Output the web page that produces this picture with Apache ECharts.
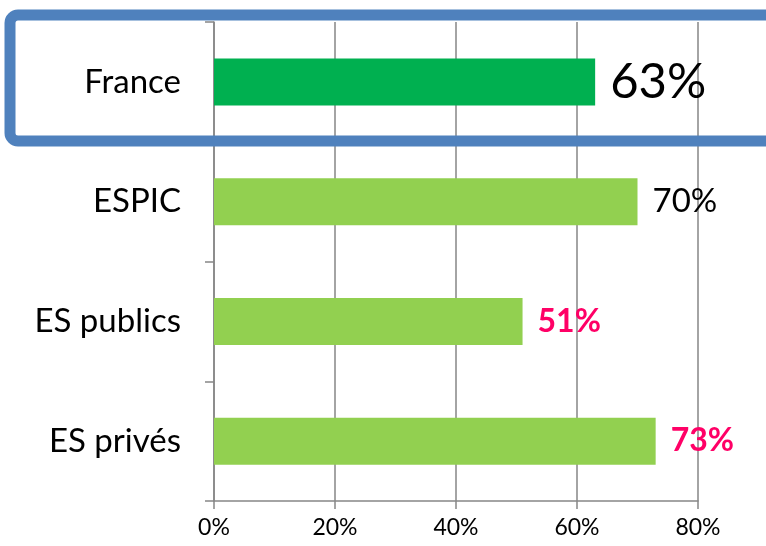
<!DOCTYPE html>
<html>
<head>
<meta charset="utf-8">
<script src="https://cdn.jsdelivr.net/npm/echarts@6/dist/echarts.min.js"></script>
<style>
    html, body {
        margin: 0;
        padding: 0;
        background: #fff;
    }

    #chart {
        width: 766px;
        height: 546px;
    }
</style>
</head>
<body>
<div id="chart"></div>
<script>
// données
var categories = ['France', 'ESPIC', 'ES publics', 'ES privés'];
var values = [63, 70, 51, 73];
var xTicks = [0, 20, 40, 60, 80];

var fontName = 'Lato';

// styles par barre
var barColors = ['#00b050', '#92d050', '#92d050', '#92d050'];
var labelStyles = [
    { fontSize: 49, color: '#000', fontWeight: 'normal' },
    { fontSize: 33, color: '#000', fontWeight: 'normal' },
    { fontSize: 32, color: '#ff0066', fontWeight: 'bold' },
    { fontSize: 32, color: '#ff0066', fontWeight: 'bold' }
];

var seriesData = [];
for (let i = 0; i < values.length; i++) {
    seriesData.push({
        value: values[i],
        itemStyle: { color: barColors[i] },
        label: labelStyles[i]
    });
}

var chart = echarts.init(document.getElementById('chart'));

var option = {
    animation: false,
    backgroundColor: '#fff',
    textStyle: { fontFamily: fontName },
    grid: {
        left: 214,
        right: 68,
        top: 22,
        bottom: 45
    },
    xAxis: {
        type: 'value',
        min: xTicks[0],
        max: xTicks[xTicks.length - 1],
        interval: 20,
        axisLine: { show: true, lineStyle: { color: '#868686', width: 1.5 } },
        axisTick: { show: true, length: 8, lineStyle: { color: '#868686', width: 1.5 } },
        splitLine: { show: true, lineStyle: { color: '#868686', width: 1.5 } },
        axisLabel: {
            color: '#000',
            fontSize: 23,
            margin: 15,
            fontFamily: fontName,
            formatter: function (v) { return v + '%'; }
        }
    },
    yAxis: {
        type: 'category',
        inverse: true,
        data: categories,
        axisLine: { show: true, lineStyle: { color: '#868686', width: 1.5 } },
        axisTick: { show: true, length: 9, lineStyle: { color: '#868686', width: 1.5 } },
        axisLabel: {
            color: '#000',
            fontSize: 33,
            margin: 33,
            fontFamily: fontName
        }
    },
    series: [{
        type: 'bar',
        barWidth: 47,
        data: seriesData,
        label: {
            show: true,
            position: 'right',
            distance: 15,
            fontFamily: fontName,
            formatter: '{c}%'
        }
    }],
    // cadre bleu autour de la ligne France
    graphic: [{
        type: 'rect',
        z: 100,
        shape: { x: 10, y: 15, width: 820, height: 126, r: 8 },
        style: { fill: 'none', stroke: '#4f81bd', lineWidth: 11 }
    }]
};

chart.setOption(option);
</script>
</body>
</html>
